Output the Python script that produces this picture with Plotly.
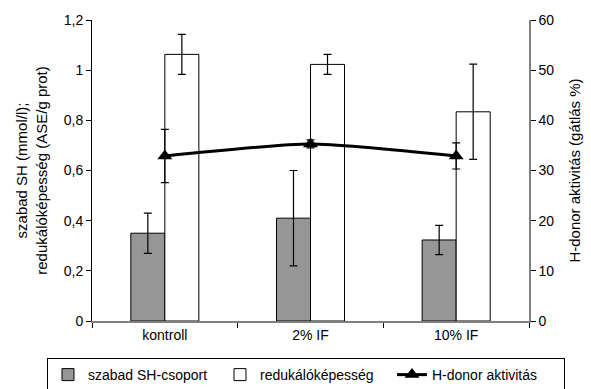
import plotly.graph_objects as go

categories = ["kontroll", "2% IF", "10% IF"]
sh_values = [0.35, 0.41, 0.323]
sh_err = [0.08, 0.19, 0.058]
red_values = [1.063, 1.023, 0.834]
red_err = [0.08, 0.04, 0.19]
hdonor_values = [32.9, 35.3, 32.9]
hdonor_err = [5.3, 0.8, 2.6]
left_ticks = [0, 0.2, 0.4, 0.6, 0.8, 1.0, 1.2]
left_ticktext = ["0", "0,2", "0,4", "0,6", "0,8", "1", "1,2"]
right_ticks = [0, 10, 20, 30, 40, 50, 60]

font = dict(family="Liberation Sans, Arial, sans-serif", size=14, color="black")

fig = go.Figure()
fig.add_trace(go.Bar(
    x=categories, y=sh_values, name="szabad SH-csoport",
    marker=dict(color="#969696", line=dict(color="black", width=1)),
    error_y=dict(type="data", array=sh_err, color="black", thickness=1.2, width=4),
))
fig.add_trace(go.Bar(
    x=categories, y=red_values, name="redukálóképesség",
    marker=dict(color="white", line=dict(color="black", width=1)),
    error_y=dict(type="data", array=red_err, color="black", thickness=1.2, width=4),
))
fig.add_trace(go.Scatter(
    x=categories, y=hdonor_values, name="H-donor aktivitás", yaxis="y2",
    mode="lines+markers",
    line=dict(color="black", width=3, shape="spline", smoothing=0.6),
    marker=dict(symbol="triangle-up", size=13, color="black"),
    error_y=dict(type="data", array=hdonor_err, color="black", thickness=1.2, width=4),
))

fig.update_layout(
    width=591, height=389,
    margin=dict(l=92, r=62, t=20, b=68, autoexpand=False),
    paper_bgcolor="white", plot_bgcolor="white",
    font=font,
    barmode="group", bargap=0.533, bargroupgap=0,
    showlegend=True,
    legend=dict(orientation="h", xref="paper", yref="paper",
                x=-0.103, xanchor="left", y=-0.123, yanchor="top",
                bordercolor="black", borderwidth=1, font=dict(size=14),
                itemwidth=30, tracegroupgap=0, entrywidth=127),
    xaxis=dict(showline=True, linecolor="#808080", linewidth=1.5,
               ticks="outside", tickson="boundaries", ticklen=5, tickcolor="black",
               showgrid=False, zeroline=False, tickfont=dict(size=14)),
    yaxis=dict(range=[0, 1.2], tickvals=left_ticks, ticktext=left_ticktext,
               showline=True, linecolor="black", linewidth=1,
               ticks="outside", ticklen=5, tickcolor="black",
               showgrid=False, zeroline=False, tickfont=dict(size=14),
               title=dict(text="szabad SH (mmol/l);<br>redukálóképesség (ASE/g prot)",
                          font=dict(size=15), standoff=12)),
    yaxis2=dict(range=[0, 60], tickvals=right_ticks, overlaying="y", side="right",
                showline=True, linecolor="#808080", linewidth=1.5,
                ticks="outside", ticklen=5, tickcolor="black",
                showgrid=False, zeroline=False, tickfont=dict(size=14),
                title=dict(text="H-donor aktivitás (gátlás %)", font=dict(size=15), standoff=16)),
    yaxis3=dict(range=[0, 1.2], tickvals=left_ticks, overlaying="y", side="left",
                ticks="inside", ticklen=5, tickcolor="black", showticklabels=False,
                showgrid=False, zeroline=False, showline=False),
    yaxis4=dict(range=[0, 60], tickvals=right_ticks, overlaying="y", side="right",
                ticks="inside", ticklen=5, tickcolor="black", showticklabels=False,
                showgrid=False, zeroline=False, showline=False),
)

fig.write_html("out.html")
